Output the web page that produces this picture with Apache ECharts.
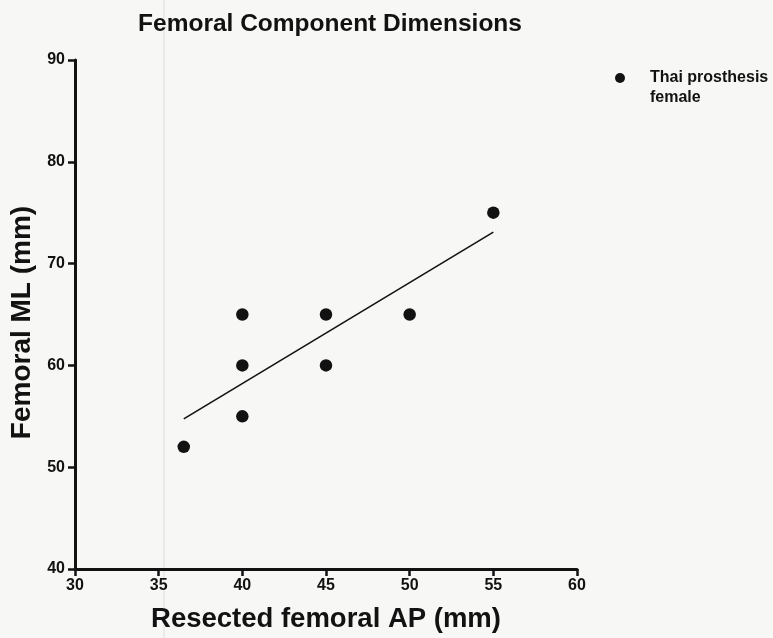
<!DOCTYPE html>
<html>
<head>
<meta charset="utf-8">
<title>Femoral Component Dimensions</title>
<script src="https://cdn.jsdelivr.net/npm/echarts@6/dist/echarts.min.js"></script>
<style>
  html, body { margin: 0; padding: 0; background: #f7f7f5; }
  #chart { width: 773px; height: 638px; }
</style>
</head>
<body>
<div id="chart"></div>
<script>
// Resected femoral AP (mm) against femoral ML (mm), female Thai prosthesis sizes
const apValues = [36.5, 40, 40, 40, 45, 45, 50, 55];
const mlValues = [52, 55, 60, 65, 60, 65, 65, 75];
const seriesName = 'Thai prosthesis female';
const xTicks = [30, 35, 40, 45, 50, 55, 60];
const yTicks = [40, 50, 60, 70, 80, 90];

// least-squares line through the points, drawn across the data's x range
function linearFit(xs, ys) {
  const n = xs.length;
  const mx = xs.reduce((a, b) => a + b, 0) / n;
  const my = ys.reduce((a, b) => a + b, 0) / n;
  let sxy = 0, sxx = 0;
  for (let i = 0; i < n; i++) {
    sxy += (xs[i] - mx) * (ys[i] - my);
    sxx += (xs[i] - mx) * (xs[i] - mx);
  }
  const slope = sxy / sxx;
  const x0 = Math.min(...xs), x1 = Math.max(...xs);
  return [[x0, my + slope * (x0 - mx)], [x1, my + slope * (x1 - mx)]];
}

const points = apValues.map((x, i) => [x, mlValues[i]]);
const fitLine = linearFit(apValues, mlValues);

const ink = '#121212';
const font = '"Liberation Sans", Arial, sans-serif';

const chart = echarts.init(document.getElementById('chart'), null, { renderer: 'canvas' });
chart.setOption({
  backgroundColor: '#f7f7f5',
  animation: false,
  title: {
    text: 'Femoral Component Dimensions',
    left: 325,
    top: 7,
    textAlign: 'center',
    textStyle: { fontFamily: font, fontWeight: 'bold', fontSize: 24.5, color: ink }
  },
  legend: {
    data: [seriesName],
    left: 615,
    top: 48,
    padding: 0,
    icon: 'circle',
    itemWidth: 50,
    itemHeight: 10,
    // blank leading line keeps the marker level with the first text line
    formatter: () => '\nThai prosthesis\nfemale',
    textStyle: { fontFamily: font, fontWeight: 'bold', fontSize: 16, color: ink, lineHeight: 20 }
  },
  graphic: [{
    type: 'line',
    shape: { x1: 164, y1: 0, x2: 164, y2: 638 },
    style: { stroke: '#dedede', lineWidth: 1 },
    z: 0
  }],
  grid: { left: 75, right: 196, top: 60, bottom: 68, containLabel: false },
  xAxis: {
    type: 'value',
    min: xTicks[0],
    max: xTicks[xTicks.length - 1],
    interval: 5,
    name: 'Resected femoral AP (mm)',
    nameLocation: 'middle',
    nameGap: 36,
    nameTextStyle: { fontFamily: font, fontWeight: 'bold', fontSize: 27.5, color: ink },
    axisLine: { show: true, lineStyle: { color: ink, width: 3 } },
    axisTick: { show: true, inside: false, length: 7, lineStyle: { color: ink, width: 2.5 } },
    axisLabel: { fontFamily: font, fontWeight: 'bold', fontSize: 16, color: ink, margin: 9 },
    splitLine: { show: false }
  },
  yAxis: {
    type: 'value',
    min: yTicks[0],
    max: yTicks[yTicks.length - 1],
    interval: 10,
    name: 'Femoral ML (mm)',
    nameLocation: 'middle',
    nameGap: 37,
    nameTextStyle: { fontFamily: font, fontWeight: 'bold', fontSize: 28, color: ink, padding: [0, 16, 0, 0] },
    axisLine: { show: true, lineStyle: { color: ink, width: 3 } },
    axisTick: { show: true, inside: false, length: 7, lineStyle: { color: ink, width: 2.5 } },
    axisLabel: { fontFamily: font, fontWeight: 'bold', fontSize: 16, color: ink, margin: 10 },
    splitLine: { show: false }
  },
  series: [
    {
      name: seriesName,
      type: 'scatter',
      data: points,
      symbol: 'circle',
      symbolSize: 12.5,
      itemStyle: { color: ink, opacity: 1 },
      z: 3
    },
    {
      name: 'fit',
      type: 'line',
      data: fitLine,
      symbol: 'none',
      lineStyle: { color: ink, width: 1.6 },
      z: 2
    }
  ]
});
</script>
</body>
</html>
